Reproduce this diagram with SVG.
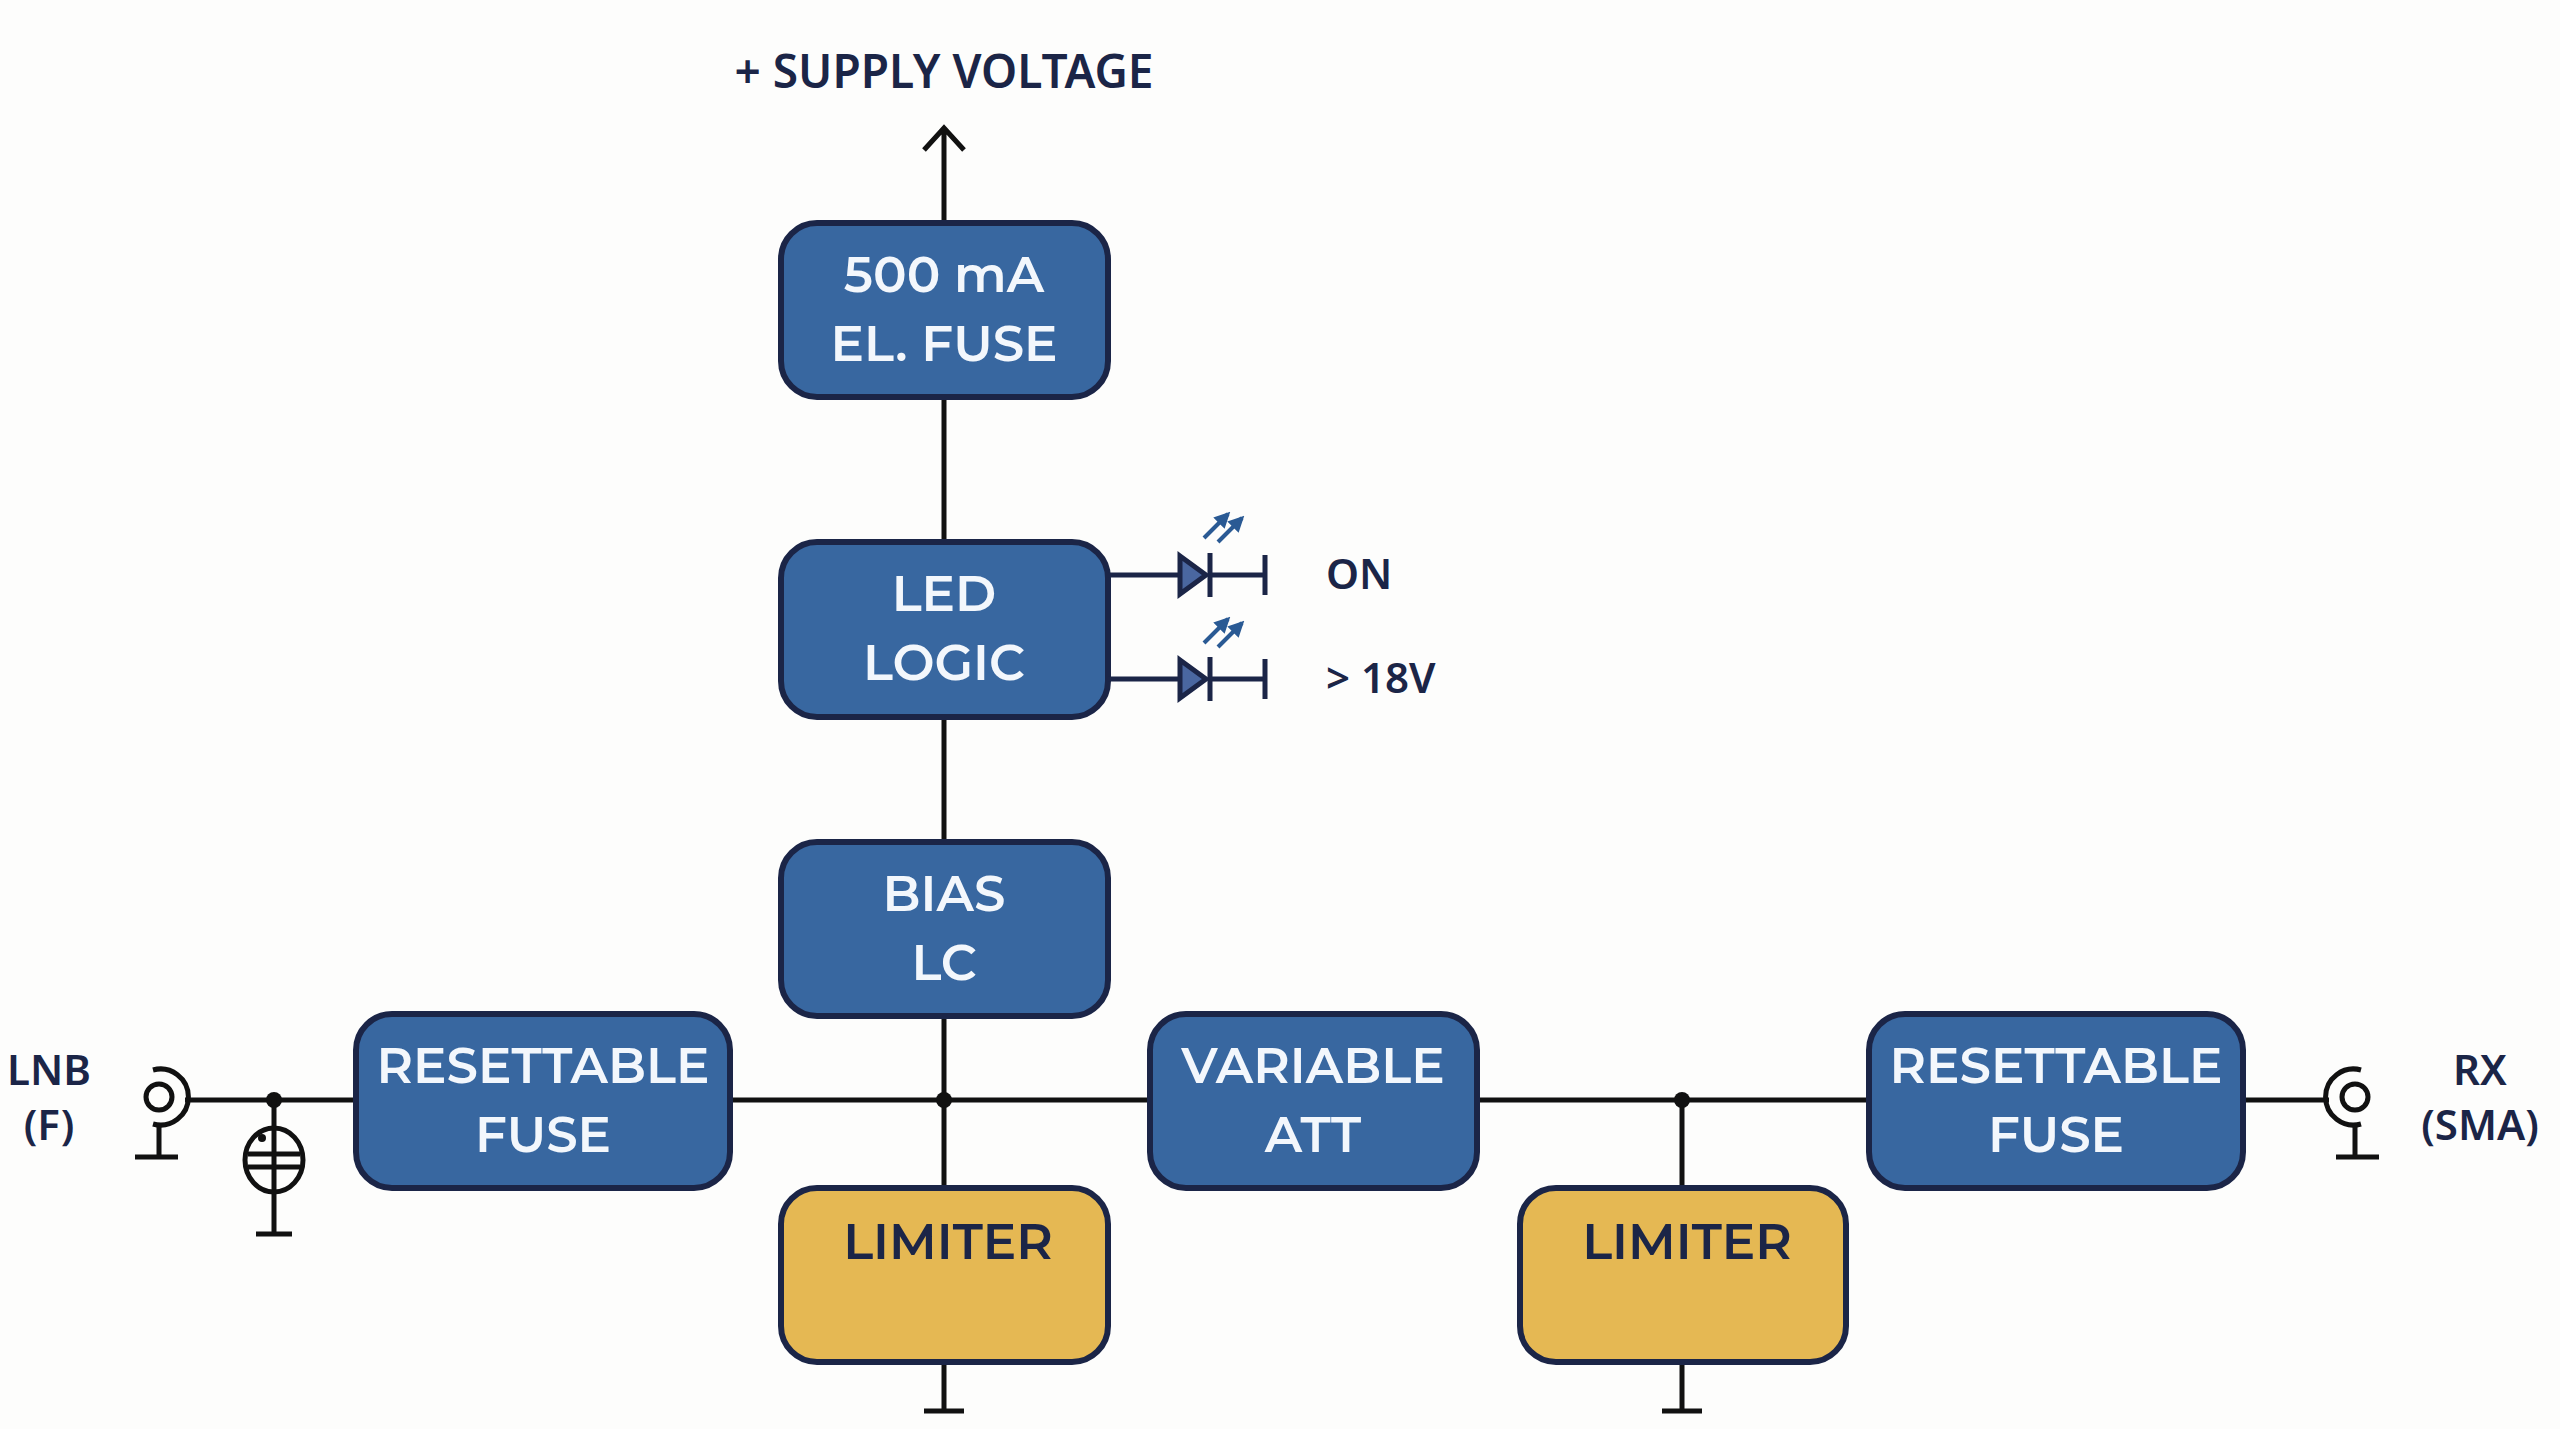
<svg xmlns="http://www.w3.org/2000/svg" width="2560" height="1429" viewBox="0 0 2560 1429">
<style>
.b{fill:#3867a0;stroke:#1b2547;stroke-width:6}
.y{fill:#e5b853;stroke:#1b2547;stroke-width:6}
.t{font-family:"Montserrat","Noto Sans","Liberation Sans",sans-serif;font-size:50px;font-weight:600;fill:#f3f7fc;text-anchor:middle}
.d{font-family:"Noto Sans","Liberation Sans",sans-serif;font-size:42px;font-weight:600;fill:#1b2547;text-anchor:middle}
.s{text-anchor:start}
.w{stroke:#111;stroke-width:5;fill:none}
.l{stroke:#1b2547;stroke-width:5;fill:none}
.a{stroke:#2a5a94;stroke-width:4;fill:none}
</style>
<defs>
<marker id="ah" viewBox="0 0 10 10" refX="8" refY="5" markerWidth="4" markerHeight="4" orient="auto"><path d="M0,0L10,5L0,10z" fill="#2a5a94"/></marker>
</defs>
<rect width="2560" height="1429" fill="#fdfdfc"/>
<g id="connectors">
<path class="w" d="M944 397V542M944 717V842M944 1016V1188M944 1362V1411M924 1411H964"/>
<path class="w" d="M944 223V132M924 150L944 128L964 150"/>
<path class="w" d="M185 1100H356M730 1100H1150M1477 1100H1869M2243 1100H2329"/>
<path class="w" d="M1682 1100V1188M1682 1362V1411M1662 1411H1702"/>
<circle cx="944" cy="1100" r="8" fill="#111"/>
<circle cx="1682" cy="1100" r="8" fill="#111"/>
<circle cx="274" cy="1100" r="8" fill="#111"/>
<path class="w" d="M274 1100V1234M256 1234H292"/>
<ellipse cx="274" cy="1160" rx="29" ry="32" class="w" stroke-width="4"/>
<path class="w" d="M248 1154H300M248 1167H300" stroke-width="5"/>
<circle cx="262" cy="1138" r="4" fill="#111"/>
</g>
<g id="lnb">
<circle cx="159" cy="1097" r="13" class="w"/>
<path class="w" stroke-width="7" d="M153 1070A28 28 0 1 1 153 1124"/>
<path class="w" stroke-width="6" d="M159 1124V1157M135 1157H178"/>
<text class="d" x="49" y="1085">LNB</text>
<text class="d" x="49" y="1140">(F)</text>
</g>
<g id="rx">
<circle cx="2355" cy="1097" r="13" class="w"/>
<path class="w" stroke-width="7" d="M2361 1070A28 28 0 1 0 2361 1124"/>
<path class="w" stroke-width="6" d="M2355 1124V1157M2336 1157H2379"/>
<text class="d" x="2480" y="1085">RX</text>
<text class="d" x="2480" y="1140">(SMA)</text>
</g>
<g id="supply"><text class="d" x="944" y="88" style="font-size:46px">+ SUPPLY VOLTAGE</text></g>
<g id="fuse"><rect class="b" x="781" y="223" width="327" height="174" rx="36"/><text class="t" x="944" y="292">500 mA</text><text class="t" x="944" y="361">EL. FUSE</text></g>
<g id="led"><rect class="b" x="781" y="542" width="327" height="175" rx="36"/><text class="t" x="944" y="611">LED</text><text class="t" x="944" y="680">LOGIC</text></g>
<g id="leds">
<path class="l" d="M1108 575H1178M1210 575H1265M1265 555V595M1210 553V597"/>
<path fill="#4a67a0" stroke="#1b2547" stroke-width="5" d="M1180 556L1206 575L1180 594Z"/>
<path class="a" marker-end="url(#ah)" d="M1204 538L1228 514"/>
<path class="a" marker-end="url(#ah)" d="M1218 542L1242 518"/>
<path class="l" d="M1108 679H1178M1210 679H1265M1265 659V699M1210 657V701"/>
<path fill="#4a67a0" stroke="#1b2547" stroke-width="5" d="M1180 660L1206 679L1180 698Z"/>
<path class="a" marker-end="url(#ah)" d="M1204 643L1228 619"/>
<path class="a" marker-end="url(#ah)" d="M1218 647L1242 623"/>
<text class="d s" x="1326" y="589">ON</text>
<text class="d s" x="1326" y="693">&gt; 18V</text>
</g>
<g id="bias"><rect class="b" x="781" y="842" width="327" height="174" rx="36"/><text class="t" x="944" y="911">BIAS</text><text class="t" x="944" y="980">LC</text></g>
<g id="rf1"><rect class="b" x="356" y="1014" width="374" height="174" rx="36"/><text class="t" x="543" y="1083">RESETTABLE</text><text class="t" x="543" y="1152">FUSE</text></g>
<g id="att"><rect class="b" x="1150" y="1014" width="327" height="174" rx="36"/><text class="t" x="1313" y="1083">VARIABLE</text><text class="t" x="1313" y="1152">ATT</text></g>
<g id="rf2"><rect class="b" x="1869" y="1014" width="374" height="174" rx="36"/><text class="t" x="2056" y="1083">RESETTABLE</text><text class="t" x="2056" y="1152">FUSE</text></g>
<g id="lim1"><rect class="y" x="781" y="1188" width="327" height="174" rx="36"/><text class="t" x="948" y="1259" style="fill:#1b2547">LIMITER</text></g>
<g id="lim2"><rect class="y" x="1520" y="1188" width="326" height="174" rx="36"/><text class="t" x="1687" y="1259" style="fill:#1b2547">LIMITER</text></g>
</svg>
